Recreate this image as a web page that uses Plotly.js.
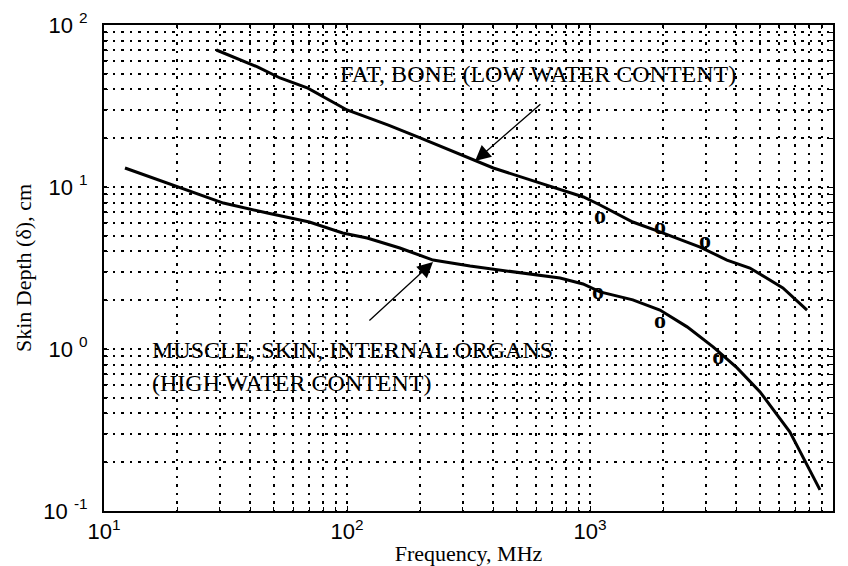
<!DOCTYPE html>
<html>
<head>
<meta charset="utf-8">
<script src="https://cdn.plot.ly/plotly-3.0.1.min.js"></script>
<style>html,body{margin:0;padding:0;background:#fff;}#chart{width:848px;height:566px;}</style>
</head>
<body>
<div id="chart"></div>
<script>
// Upper curve: fat, bone (low water content)
const fatFreq  = [29, 43, 53, 69, 100, 148, 200, 330, 400, 620, 940, 1100, 1500, 1940, 2840, 3660, 4550, 6220, 7820];
const fatDepth = [70.1, 55.0, 47.1, 40.8, 29.9, 24.1, 20.1, 14.7, 13.1, 10.6, 8.68, 7.74, 6.08, 5.28, 4.26, 3.54, 3.16, 2.38, 1.74];
// Lower curve: muscle, skin, internal organs (high water content)
const muscleFreq  = [12.2, 20, 31, 47, 70, 96, 121, 165, 226, 321, 515, 753, 936, 1100, 1500, 1940, 2510, 3210, 4030, 5010, 6650, 8840];
const muscleDepth = [13.1, 10.0, 7.96, 6.91, 6.08, 5.20, 4.84, 4.20, 3.54, 3.25, 2.94, 2.74, 2.52, 2.25, 2.01, 1.74, 1.37, 1.03, 0.764, 0.543, 0.307, 0.135];
// Measured points ("o")
const fatMarkFreq = [1100, 1940, 2970];
const fatMarkDepth = [6.5, 5.6, 4.6];
const muscleMarkFreq = [1080, 1940, 3370];
const muscleMarkDepth = [2.22, 1.47, 0.88];
// Ticks
const xDecades = [10, 100, 1000, 10000];
const xDecadeLabels = ['10<sup>1</sup>', '10<sup>2</sup>', '10<sup>3</sup>', '10<sup>4</sup>'];
const yDecades = [0.1, 1, 10, 100];
const yDecadeLabels = ['10 <sup>-1</sup>', '10 <sup>0</sup>', '10 <sup>1</sup>', '10 <sup>2</sup>'];
const minorDigits = [2, 3, 4, 5, 6, 7, 8, 9];
const labels = {
  fat: 'FAT, BONE (LOW WATER CONTENT)',
  muscle1: 'MUSCLE, SKIN, INTERNAL ORGANS',
  muscle2: '(HIGH WATER CONTENT)',
  xTitle: 'Frequency, MHz',
  yTitle: 'Skin Depth (\u03b4), cm',
  mark: 'o'
};

function minorTicks(decades) {
  const vals = [];
  decades.slice(0, -1).forEach(d => minorDigits.forEach(k => vals.push(d * k)));
  return vals;
}

const serif = '"Liberation Serif", "Times New Roman", serif';
const sans = '"Liberation Sans", Arial, Helvetica, sans-serif';

const markX = fatMarkFreq.concat(muscleMarkFreq);
const markY = fatMarkDepth.concat(muscleMarkDepth);

const traces = [
  {x: fatFreq, y: fatDepth, mode: 'lines', line: {color: '#000', width: 3}, hoverinfo: 'none'},
  {x: muscleFreq, y: muscleDepth, mode: 'lines', line: {color: '#000', width: 3}, hoverinfo: 'none'},
  {x: markX, y: markY, mode: 'text',
   text: markX.map(() => labels.mark), textposition: 'middle center',
   textfont: {family: serif, size: 24, color: '#000', weight: 'bold'}, hoverinfo: 'none'}
];

const gridStyle = {showgrid: true, gridcolor: '#000', gridwidth: 2, griddash: '2.5px,6px'};
const axisCommon = Object.assign({
  type: 'log', showline: true, linecolor: '#000', linewidth: 2, mirror: 'ticks',
  ticks: 'inside', ticklen: 5, tickcolor: '#000', tickwidth: 1,
  zeroline: false, tickmode: 'array'
}, gridStyle);

const layout = {
  width: 848, height: 566,
  margin: {l: 104, r: 15, t: 25, b: 55},
  paper_bgcolor: '#fff', plot_bgcolor: '#fff',
  showlegend: false,
  xaxis: Object.assign({}, axisCommon, {
    range: [1, 4], tickvals: xDecades, ticktext: xDecadeLabels,
    minor: Object.assign({tickmode: 'array', tickvals: minorTicks(xDecades), ticks: 'inside', ticklen: 4, tickcolor: '#000', tickwidth: 1}, gridStyle),
    tickfont: {family: sans, size: 22, color: '#000'},
    title: {text: labels.xTitle, font: {family: serif, size: 22, color: '#000'}, standoff: 2}
  }),
  yaxis: Object.assign({}, axisCommon, {
    range: [-1, 2], tickvals: yDecades, ticktext: yDecadeLabels,
    minor: Object.assign({tickmode: 'array', tickvals: minorTicks(yDecades), ticks: 'inside', ticklen: 4, tickcolor: '#000', tickwidth: 1}, gridStyle),
    tickfont: {family: sans, size: 22, color: '#000'},
    ticklabelstandoff: 10,
    title: {text: labels.yTitle, font: {family: serif, size: 22, color: '#000'}, standoff: 6}
  }),
  annotations: [
    {xref: 'x', yref: 'y', x: 1.963, y: 1.698, text: labels.fat, showarrow: false,
     xanchor: 'left', yanchor: 'middle', font: {family: serif, size: 24, color: '#000'}},
    {xref: 'x', yref: 'y', x: 1.189, y: -0.006, text: labels.muscle1, showarrow: false,
     xanchor: 'left', yanchor: 'middle', font: {family: serif, size: 24, color: '#000'}},
    {xref: 'x', yref: 'y', x: 1.189, y: -0.210, text: labels.muscle2, showarrow: false,
     xanchor: 'left', yanchor: 'middle', font: {family: serif, size: 24, color: '#000'}},
    {xref: 'x', yref: 'y', axref: 'x', ayref: 'y', x: 2.527, y: 1.160, ax: 2.802, ay: 1.519,
     text: '', showarrow: true, arrowhead: 2, arrowsize: 2.4, arrowwidth: 1.3, arrowcolor: '#000', standoff: 0},
    {xref: 'x', yref: 'y', axref: 'x', ayref: 'y', x: 2.354, y: 0.537, ax: 2.086, ay: 0.167,
     text: '', showarrow: true, arrowhead: 2, arrowsize: 2.4, arrowwidth: 1.3, arrowcolor: '#000', standoff: 0}
  ]
};

Plotly.newPlot('chart', traces, layout, {displayModeBar: false, staticPlot: true});
</script>
</body>
</html>
